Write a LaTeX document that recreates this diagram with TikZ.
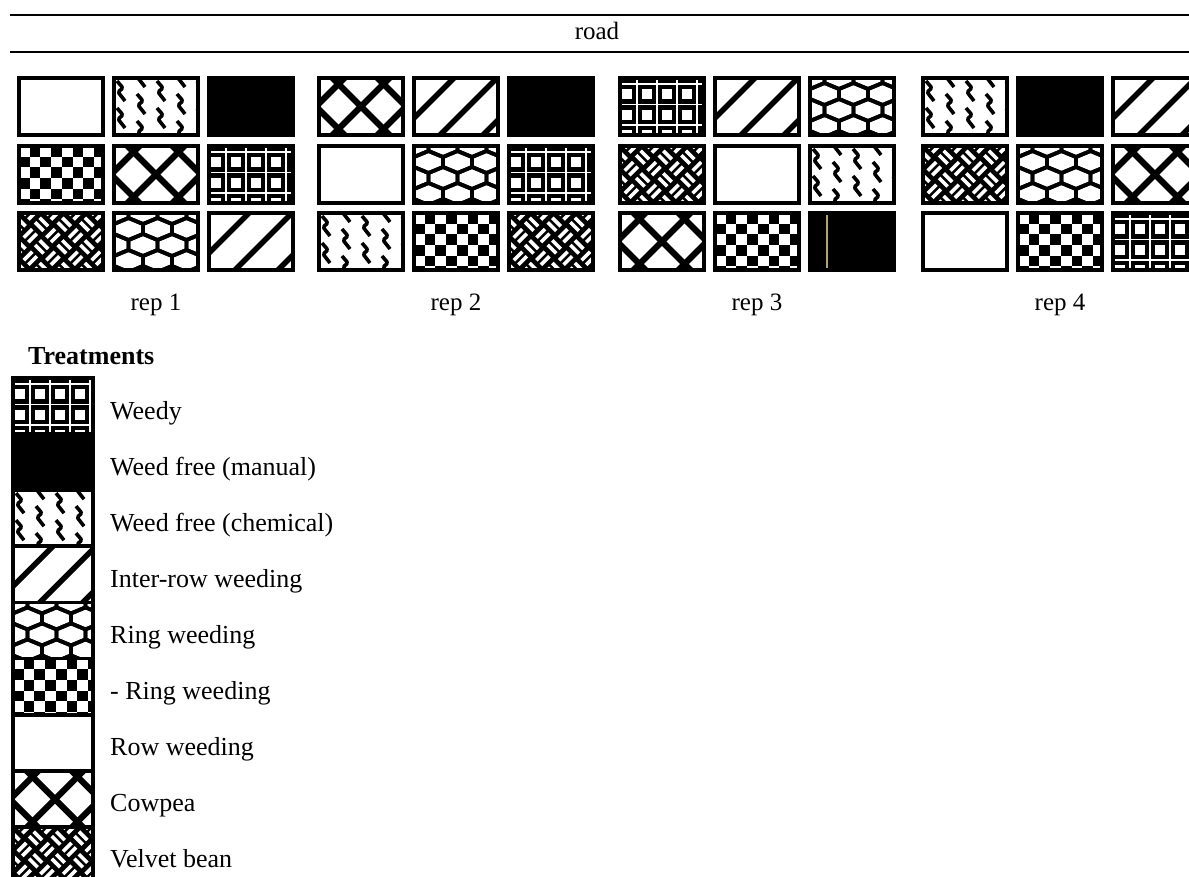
\documentclass[tikz,border=0pt]{standalone}
\usepackage{fontspec}
\setmainfont{Liberation Serif}
\definecolor{scanline}{RGB}{185,165,95}
\tikzset{
  plotbox/.style={rectangle, minimum width=84pt, minimum height=57pt, inner sep=0pt, outer sep=0pt, anchor=north west},
  legbox/.style={rectangle, minimum width=80pt, minimum height=56.1pt, inner sep=0pt, outer sep=0pt, anchor=north west},
  boxframe/.style={line width=3.8pt, line join=miter},
  hatchline/.style={line width=6.2pt},
  ringline/.style={line width=3.8pt, line join=round},
  chemline/.style={line width=3.6pt, line join=round, rounded corners=1.5pt},
  gridline/.style={white, line width=1.8pt},
  roadline/.style={line width=2.8pt},
  replbl/.style={font=\fontsize{25}{30}\selectfont, inner sep=0pt, anchor=base},
  leglbl/.style={font=\fontsize{26}{30}\selectfont, inner sep=0pt, anchor=base west},
  headlbl/.style={font=\fontsize{26}{30}\selectfont\bfseries, inner sep=0pt, anchor=base west}
}
% ---------- patterns (local coords, origin = top-left of cell, y downwards)
\newcommand\patwhite{}
\newcommand\patblack{\fill[black] (-3,-3) rectangle (100,70);}
\newcommand\patcheck{%
  \foreach \i in {0,...,8}{\foreach \j in {0,...,5}{%
    \pgfmathtruncatemacro\chk{mod(\i+\j,2)}%
    \ifnum\chk=1 \fill (\i*10.7,\j*10.7) rectangle ++(10.7,10.7);\fi}}}
\newcommand\patcowpea{%
  \foreach \k in {-3,...,3}{%
    \draw[hatchline] (13.5+45*\k-30,-30) -- (13.5+45*\k+100,100);
    \draw[hatchline] (70.5+45*\k+30,-30) -- (70.5+45*\k-100,100);}}
\newcommand\patinter{%
  \foreach \k in {-2,...,4}{%
    \draw[hatchline,line width=5.4pt] (40+43*\k+30,-30) -- (40+43*\k-100,100);}}
\newcommand\patweedy{%
  \fill[black] (-3,-3) rectangle (100,70);
  \foreach \i in {-1,...,4}{\foreach \j in {-1,...,3}{%
    \fill[white] (27+20*\i-5,16.25+20.5*\j-5) rectangle ++(10,10);}}
  \foreach \i in {-1,...,4}{\draw[gridline] (17+20*\i,-5) -- ++(0,80);}
  \foreach \j in {-1,...,3}{\draw[gridline] (-5,6+20.5*\j) -- ++(100,0);}}
\newcommand\patring{%
  \foreach \j in {-1,...,4}{\foreach \i in {-1,...,3}{%
    \pgfmathsetmacro\cx{29*\i+14.5*mod(\j+2,2)}%
    \pgfmathsetmacro\cy{16*\j}%
    \draw[ringline] (\cx,\cy-11) -- (\cx+14.5,\cy-5) -- (\cx+14.5,\cy+5) -- (\cx,\cy+11)
      -- (\cx-14.5,\cy+5) -- (\cx-14.5,\cy-5) -- cycle;}}}
\newcommand\patchem{%
  \foreach \i in {0,...,4}{\foreach \j in {-1,...,2}{%
    \pgfmathsetmacro\sx{7+20*\i}%
    \pgfmathsetmacro\sy{27*\j+13*mod(\i,2)+3}%
    \draw[chemline] (\sx-4,\sy) -- (\sx+2,\sy+7) -- (\sx-3,\sy+11) -- (\sx+4,\sy+20);}}}
\newcommand\patvelvet{%
  \fill[black] (-3,-3) rectangle (100,70);
  \begin{scope}[rotate=45]
  \foreach \i in {-5,...,7}{\foreach \j in {-5,...,7}{%
    \pgfmathtruncatemacro\vpar{mod(\i+\j+20,2)}%
    \ifnum\vpar=0
      \fill[white] (\i*16+2,\j*16+3) rectangle ++(12,3.6);
      \fill[white] (\i*16+2,\j*16+9.4) rectangle ++(12,3.6);
    \else
      \fill[white] (\i*16+3,\j*16+2) rectangle ++(3.6,12);
      \fill[white] (\i*16+9.4,\j*16+2) rectangle ++(3.6,12);
    \fi}}
  \end{scope}}
% ---------- one cell: name, x, y, box style, pattern
\newcommand\plotcell[5]{%
  \node[#4] (#1) at (#2,#3) {};
  \begin{scope}
    \clip (#1.north west) rectangle (#1.south east);
    \begin{scope}[shift={(#1.north west)}]
      \csname pat#5\endcsname
    \end{scope}
  \end{scope}
  \draw[boxframe] (#1.north west) rectangle (#1.south east);
}
\begin{document}
\begin{tikzpicture}[x=1pt,y=-1pt]
\useasboundingbox (0,0) rectangle (1189,877);
\fill[white] (0,0) rectangle (1189,877);
% road
\coordinate (rtl) at (10,15);  \coordinate (rtr) at (1189,15);
\coordinate (rbl) at (10,52);  \coordinate (rbr) at (1189,52);
\draw[roadline] (rtl) -- (rtr);
\draw[roadline] (rbl) -- (rbr);
\node[replbl] (road) at (597,40) {road};
% plots
\foreach \nm/\x/\y/\p in {
  p111/19/78/white, p112/114/78/chem, p113/209/78/black,
  p121/19/146/check, p122/114/146/cowpea, p123/209/146/weedy,
  p131/19/213/velvet, p132/114/213/ring, p133/209/213/inter,
  p211/319/78/cowpea, p212/414/78/inter, p213/509/78/black,
  p221/319/146/white, p222/414/146/ring, p223/509/146/weedy,
  p231/319/213/chem, p232/414/213/check, p233/509/213/velvet,
  p311/620/78/weedy, p312/715/78/inter, p313/810/78/ring,
  p321/620/146/velvet, p322/715/146/white, p323/810/146/chem,
  p331/620/213/cowpea, p332/715/213/check, p333/810/213/black,
  p411/923/78/chem, p412/1018/78/black, p413/1113/78/inter,
  p421/923/146/velvet, p422/1018/146/ring, p423/1113/146/cowpea,
  p431/923/213/white, p432/1018/213/check, p433/1113/213/weedy}{%
  \plotcell{\nm}{\x}{\y}{plotbox}{\p}}
\draw[scanline, line width=1.5pt] ([xshift=17pt,yshift=-2pt]p333.north west) -- ([xshift=17pt,yshift=2pt]p333.south west);
% rep labels
\node[replbl] (rep1) at (156,311) {rep 1};
\node[replbl] (rep2) at (456,311) {rep 2};
\node[replbl] (rep3) at (757,311) {rep 3};
\node[replbl] (rep4) at (1060,311) {rep 4};
% legend
\node[headlbl] (treat) at (28,365) {Treatments};
\foreach \p/\t [count=\n from 0] in {weedy/Weedy, black/Weed free (manual), chem/Weed free (chemical),
  inter/Inter-row weeding, ring/Ring weeding, check/- Ring weeding, white/Row weeding,
  cowpea/Cowpea, velvet/Velvet bean}{%
  \pgfmathsetmacro\ly{378+56.1*\n}%
  \plotcell{leg\n}{13}{\ly}{legbox}{\p}
  \node[leglbl] (lab\n) at (110,\ly+41) {\t};
}
\end{tikzpicture}
\end{document}
